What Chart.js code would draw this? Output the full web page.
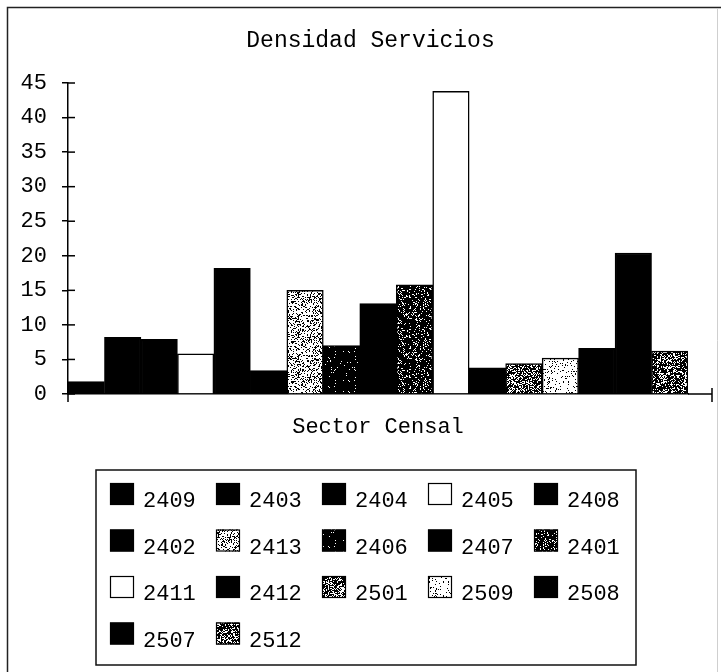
<!DOCTYPE html>
<html>
<head>
<meta charset="utf-8">
<script src="https://cdn.jsdelivr.net/npm/chart.js@4.4.1/dist/chart.umd.min.js"></script>
<style>
html,body{margin:0;padding:0;background:#fff;}
#wrap{width:721px;height:672px;position:relative;}
</style>
</head>
<body>
<div id="wrap"><canvas id="c"></canvas></div>
<script>
// ---- data ----
const chartTitle = 'Densidad Servicios';
const axisTitle = 'Sector Censal';
const categories = ['Sector Censal'];
const sectors = ['2409','2403','2404','2405','2408','2402','2413','2406','2407','2401','2411','2412','2501','2509','2508','2507','2512'];
const density = [1.8, 8.2, 7.9, 5.8, 18.2, 3.4, 15.0, 7.0, 13.1, 15.8, 43.8, 3.8, 4.4, 5.2, 6.6, 20.4, 6.2];
const yTickValues = [0, 5, 10, 15, 20, 25, 30, 35, 40, 45];
// fill style of each sector (styles, not data)
const fillKinds = ['solid','solid','solid','blank','solid','solid','stipple','darkSpeck','solid','darkDots','blank','solid','grayMix','sparse','solid','solid','mix'];

const FONT = "'Liberation Mono', 'Courier New', monospace";

// deterministic stipple textures
function makePattern(bg, fg, amount, seed, size) {
  const c = document.createElement('canvas');
  c.width = size; c.height = size;
  const g = c.getContext('2d');
  g.fillStyle = bg; g.fillRect(0, 0, size, size);
  g.fillStyle = fg;
  let s = seed;
  for (let y = 0; y < size; y++) {
    for (let x = 0; x < size; x++) {
      s = (s * 1103515245 + 12345) % 2147483648;
      if (s / 2147483648 < amount) g.fillRect(x, y, 1, 1);
    }
  }
  return g.createPattern(c, 'repeat');
}
const fills = {
  solid: '#000000',
  blank: '#ffffff',
  stipple: makePattern('#ffffff', '#000000', 0.30, 11, 40),
  sparse: makePattern('#ffffff', '#000000', 0.10, 23, 40),
  darkSpeck: makePattern('#000000', '#ffffff', 0.05, 37, 40),
  darkDots: makePattern('#000000', '#ffffff', 0.16, 41, 40),
  grayMix: makePattern('#ffffff', '#000000', 0.62, 53, 40),
  mix: makePattern('#000000', '#ffffff', 0.33, 67, 40)
};

const AXIS_RUNOUT = 24;

const decor = {
  id: 'decor',
  beforeDraw(chart) {
    const {ctx, width, height} = chart;
    ctx.save();
    ctx.fillStyle = '#fff';
    ctx.fillRect(0, 0, width, height);
    ctx.strokeStyle = '#222';
    ctx.lineWidth = 1.5;
    ctx.beginPath();
    ctx.moveTo(7.5, height); ctx.lineTo(7.5, 7.5); ctx.lineTo(width, 7.5);
    ctx.stroke();
    ctx.strokeStyle = '#cfcfcf';
    ctx.lineWidth = 1;
    ctx.beginPath();
    ctx.moveTo(717.5, 9); ctx.lineTo(717.5, height);
    ctx.stroke();
    ctx.restore();
  },
  afterDraw(chart) {
    const {ctx, chartArea} = chart;
    const ys = chart.scales.y;
    ctx.save();
    ctx.strokeStyle = '#000';
    ctx.lineWidth = 1.5;
    // inner halves of the crossing y ticks
    ys.ticks.forEach(t => {
      const py = ys.getPixelForValue(t.value);
      ctx.beginPath(); ctx.moveTo(chartArea.left, py); ctx.lineTo(chartArea.left + 7, py); ctx.stroke();
    });
    // y axis runs a little below the baseline
    ctx.beginPath(); ctx.moveTo(chartArea.left, chartArea.bottom); ctx.lineTo(chartArea.left, chartArea.bottom + 8); ctx.stroke();
    // x axis runs on to its end tick
    const xEnd = chartArea.right + AXIS_RUNOUT;
    ctx.beginPath();
    ctx.moveTo(chartArea.right, chartArea.bottom); ctx.lineTo(xEnd, chartArea.bottom);
    ctx.moveTo(xEnd, chartArea.bottom - 6); ctx.lineTo(xEnd, chartArea.bottom + 8);
    ctx.stroke();

    // legend box in a 5-column grid
    const L = {left: 96, top: 470, right: 636, bottom: 665, x0: 110, y0: 483, dx: 106, dy: 46.5, sw: 24, sh: 22, cols: 5};
    ctx.lineWidth = 1.5;
    ctx.strokeStyle = '#111';
    ctx.strokeRect(L.left, L.top, L.right - L.left, L.bottom - L.top);
    ctx.font = '22px ' + FONT;
    ctx.textAlign = 'left';
    ctx.textBaseline = 'alphabetic';
    chart.data.datasets.forEach((ds, i) => {
      const c = i % L.cols, r = Math.floor(i / L.cols);
      const x = L.x0 + c * L.dx, y = L.y0 + r * L.dy;
      ctx.fillStyle = ds.backgroundColor;
      ctx.fillRect(x, y, L.sw, L.sh);
      ctx.lineWidth = 1.2;
      ctx.strokeStyle = '#000';
      ctx.strokeRect(x + 0.5, y + 0.5, L.sw - 1, L.sh - 1);
      ctx.fillStyle = '#000';
      ctx.fillText(ds.label, x + 33, y + 24);
    });
    ctx.restore();
  }
};

new Chart(document.getElementById('c'), {
  type: 'bar',
  data: {
    labels: categories,
    datasets: sectors.map((s, i) => ({
      label: s,
      data: [density[i]],
      backgroundColor: fills[fillKinds[i]],
      borderColor: '#000',
      borderWidth: 1.5,
      borderSkipped: 'bottom',
      categoryPercentage: 1,
      barPercentage: 1,
      xAxisID: 'x',
      yAxisID: 'y'
    }))
  },
  options: {
    responsive: true,
    maintainAspectRatio: false,
    animation: false,
    devicePixelRatio: 1,
    layout: {padding: {left: 20, right: 0, top: 10, bottom: 221.6}},
    plugins: {
      legend: {display: false},
      tooltip: {enabled: false},
      title: {
        display: true,
        text: chartTitle,
        color: '#000',
        font: {family: FONT, size: 23, weight: 'normal'},
        padding: {top: 17, bottom: 28.4}
      }
    },
    scales: {
      x: {
        type: 'category',
        offset: true,
        grid: {display: false, drawTicks: false},
        border: {display: true, color: '#000', width: 1.5},
        ticks: {display: false},
        title: {display: true, text: axisTitle, color: '#000', font: {family: FONT, size: 22, weight: 'normal'}, padding: {top: 20, bottom: 10}}
      },
      y: {
        type: 'linear',
        position: 'left',
        min: 0,
        max: 45,
        afterFit: s => { s.width = 48; },
        afterBuildTicks: s => { s.ticks = yTickValues.map(v => ({value: v})); },
        grid: {display: true, drawOnChartArea: false, drawTicks: true, tickLength: 6, color: '#000', lineWidth: 1.5},
        border: {display: true, color: '#000', width: 1.5},
        ticks: {color: '#000', padding: 15, font: {family: FONT, size: 22, weight: 'normal'}}
      },
      y2: {
        type: 'linear',
        position: 'right',
        display: true,
        afterFit: s => { s.width = 33; },
        grid: {display: false, drawTicks: false},
        border: {display: false},
        ticks: {display: false}
      }
    }
  },
  plugins: [decor]
});
</script>
</body>
</html>
